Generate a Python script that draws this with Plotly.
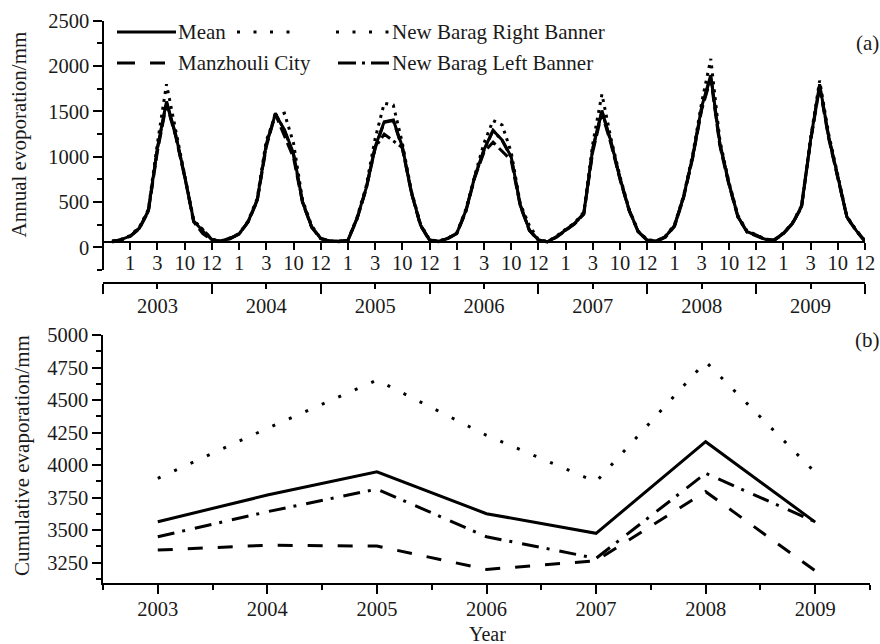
import plotly.graph_objects as go

# ---------------- data ----------------
YEARS = [2003, 2004, 2005, 2006, 2007, 2008, 2009]
MONTHS = list(range(1, 13))
MONTH_TICK_LABELS = ["1", "3", "10", "12"]

# (a) monthly evaporation (mm), 12 values per year, 2003..2009
mean_monthly = [
    65, 85, 125, 212, 405, 1100, 1610, 1250, 790, 290, 180, 85,
    68, 100, 147, 284, 523, 1140, 1470, 1300, 1037, 503, 228, 99,
    69, 66, 77, 320, 651, 1110, 1386, 1405, 1110, 607, 246, 80,
    66, 99, 155, 405, 788, 1080, 1290, 1184, 1000, 467, 191, 80,
    62, 118, 191, 265, 376, 1100, 1510, 1166, 760, 412, 173, 80,
    69, 118, 240, 559, 1000, 1552, 1900, 1148, 706, 338, 172, 136,
    88, 81, 155, 265, 449, 1185, 1800, 1221, 780, 338, 190, 70,
]
right_monthly = [
    70, 90, 130, 220, 420, 1150, 1800, 1280, 800, 300, 190, 90,
    70, 105, 150, 290, 540, 1180, 1450, 1480, 1150, 520, 240, 100,
    70, 70, 80, 330, 670, 1200, 1590, 1570, 1150, 620, 260, 85,
    70, 100, 160, 420, 800, 1150, 1400, 1350, 1050, 480, 240, 85,
    65, 125, 200, 270, 390, 1150, 1690, 1200, 780, 420, 180, 85,
    70, 125, 250, 570, 1020, 1600, 2080, 1180, 720, 350, 180, 140,
    90, 85, 160, 270, 460, 1200, 1840, 1250, 800, 345, 195, 75,
]
manzhouli_monthly = [
    60, 80, 120, 205, 395, 1060, 1580, 1230, 780, 280, 150, 80,
    65, 95, 145, 280, 510, 1110, 1470, 1220, 990, 490, 220, 95,
    68, 62, 75, 310, 640, 1090, 1380, 1400, 1090, 600, 240, 75,
    62, 97, 150, 395, 775, 1050, 1160, 1060, 960, 455, 185, 75,
    60, 112, 185, 260, 365, 1060, 1480, 1140, 745, 405, 170, 75,
    66, 112, 230, 545, 985, 1520, 1860, 1120, 690, 330, 168, 130,
    85, 78, 150, 260, 440, 1170, 1770, 1200, 770, 332, 185, 65,
]
left_monthly = [
    65, 85, 125, 210, 400, 1090, 1600, 1240, 785, 285, 200, 85,
    68, 100, 148, 282, 520, 1130, 1480, 1290, 1020, 500, 225, 98,
    69, 66, 76, 318, 645, 1100, 1250, 1180, 1100, 605, 245, 80,
    65, 98, 153, 400, 785, 1070, 1290, 1180, 990, 465, 190, 80,
    62, 116, 190, 263, 372, 1090, 1500, 1160, 755, 410, 172, 80,
    68, 116, 238, 555, 995, 1540, 1890, 1140, 700, 336, 170, 135,
    87, 80, 153, 262, 447, 1180, 1790, 1215, 775, 336, 188, 70,
]

# (b) cumulative (annual) evaporation (mm)
mean_annual = [3565, 3770, 3949, 3627, 3476, 4180, 3562]
right_annual = [3898, 4283, 4654, 4229, 3872, 4795, 3944]
manzhouli_annual = [3347, 3385, 3378, 3199, 3265, 3796, 3188]
left_annual = [3450, 3642, 3816, 3450, 3284, 3937, 3565]

# ---------------- helpers ----------------
W, H = 880, 644
FONT = "Liberation Serif, Times New Roman, serif"
TXT = "#1a1a1a"
LC = "#000000"


def px(x):
    return x / W


def py(y):
    return 1 - y / H


n_y = len(YEARS)
x_month = [12 * i + m for i in range(n_y) for m in MONTHS]
month_tickvals = [12 * i + 3 * (k + 1) for i in range(n_y) for k in range(4)]
month_ticktext = MONTH_TICK_LABELS * n_y
year_centers = [12 * i + 6 for i in range(n_y)]
year_bounds = [12 * i for i in range(n_y + 1)]

fig = go.Figure()

top_styles = [
    ("New Barag Right Banner", right_monthly, "3px,5px"),
    ("Manzhouli City", manzhouli_monthly, "12px,5px"),
    ("New Barag Left Banner", left_monthly, "12px,4px,3px,4px"),
    ("Mean", mean_monthly, "solid"),
]
for name, vals, dash in top_styles:
    fig.add_trace(go.Scatter(x=x_month, y=vals, mode="lines", name=name,
                             line=dict(color=LC, width=3, dash=dash),
                             xaxis="x", yaxis="y", showlegend=False))

# dummy trace for the year axis of panel (a)
fig.add_trace(go.Scatter(x=[None], y=[None], xaxis="x3", yaxis="y",
                         showlegend=False, hoverinfo="skip"))

bottom_styles = [
    ("New Barag Right Banner", right_annual, "3px,15px"),
    ("Manzhouli City", manzhouli_annual, "15px,15px"),
    ("New Barag Left Banner", left_annual, "17px,8px,3px,10px"),
    ("Mean", mean_annual, "solid"),
]
for name, vals, dash in bottom_styles:
    fig.add_trace(go.Scatter(x=YEARS, y=vals, mode="lines", name=name,
                             line=dict(color=LC, width=3, dash=dash),
                             xaxis="x2", yaxis="y2", showlegend=False))

tickfont = dict(family=FONT, size=20.5, color=TXT)
axis_common = dict(showline=True, linecolor=LC, linewidth=1.5, ticks="outside",
                   tickcolor=LC, tickwidth=1.5, showgrid=False, zeroline=False,
                   tickfont=tickfont, automargin=False, fixedrange=True)

fig.update_layout(
    template="none",
    width=W, height=H,
    margin=dict(l=0, r=0, t=0, b=0),
    paper_bgcolor="white", plot_bgcolor="white",
    showlegend=False,
    xaxis=dict(domain=[px(103), px(865)], range=[0, 84], anchor="free",
               position=py(242), tickmode="array", tickvals=month_tickvals,
               ticktext=month_ticktext, ticklen=7, ticklabelstandoff=-4,
               **axis_common),
    xaxis3=dict(overlaying="x", range=[0, 84], anchor="free", position=py(283),
                tickmode="array", tickvals=year_centers,
                ticktext=[str(y) for y in YEARS], ticklen=5,
                minor=dict(tickmode="array", tickvals=year_bounds, ticklen=10,
                           ticks="outside", tickcolor=LC, tickwidth=1.5),
                **axis_common),
    yaxis=dict(domain=[py(270), py(20.8)], range=[-250, 2500], anchor="free",
               position=px(103), tickmode="array",
               tickvals=[0, 500, 1000, 1500, 2000, 2500], ticklen=9,
               minor=dict(dtick=250, tick0=0, ticklen=5, ticks="outside",
                          tickcolor=LC, tickwidth=1.5),
               **axis_common),
    xaxis2=dict(domain=[px(103), px(870)], range=[2002.5, 2009.5], anchor="y2",
                tickmode="array", tickvals=YEARS, ticklen=9,
                ticklabelstandoff=-3,
                minor=dict(dtick=1, tick0=2002.5, ticklen=5, ticks="outside",
                           tickcolor=LC, tickwidth=1.5),
                **axis_common),
    yaxis2=dict(domain=[py(583.3), py(335)], range=[3092, 5000], anchor="x2",
                tickmode="array",
                tickvals=[3250, 3500, 3750, 4000, 4250, 4500, 4750, 5000],
                ticklen=9,
                minor=dict(dtick=125, tick0=3000, ticklen=5, ticks="outside",
                           tickcolor=LC, tickwidth=1.5),
                **axis_common),
)

annots = [
    dict(text="Annual evoporation/mm", x=px(18.5), y=py(135), textangle=-90,
         font=dict(family=FONT, size=21, color=TXT)),
    dict(text="Cumulative evaporation/mm", x=px(22), y=py(456), textangle=-90,
         font=dict(family=FONT, size=21, color=TXT)),
    dict(text="Year", x=px(487), y=py(634),
         font=dict(family=FONT, size=20, color=TXT)),
    dict(text="(a)", x=px(867), y=py(43),
         font=dict(family=FONT, size=21, color=TXT)),
    dict(text="(b)", x=px(867), y=py(340),
         font=dict(family=FONT, size=21, color=TXT)),
]
legend_text = [
    ("Mean", 177, 32), ("New Barag Right Banner", 391, 32),
    ("Manzhouli City", 177, 63), ("New Barag Left Banner", 391, 63),
]
for t, lx, ly in legend_text:
    annots.append(dict(text=t, x=px(lx), y=py(ly), xanchor="left",
                       font=dict(family=FONT, size=21, color=TXT)))
for a in annots:
    a.update(xref="paper", yref="paper", showarrow=False)
    a.setdefault("xanchor", "center")
    a.setdefault("yanchor", "middle")
    a.setdefault("borderpad", 0)
fig.update_layout(annotations=annots)

legend_lines = [
    (117, 176, 32, "solid"),
    (237, 292, 32, "3px,13.5px"),
    (336, 390, 32, "3px,13.5px"),
    (117, 165, 63, "18px,15px"),
    (338, 392, 63, "18px,6px,3px,6px"),
]
shapes = []
for x0, x1, yy, dash in legend_lines:
    shapes.append(dict(type="line", xref="paper", yref="paper",
                       x0=px(x0), x1=px(x1), y0=py(yy), y1=py(yy),
                       line=dict(color=LC, width=3, dash=dash)))
fig.update_layout(shapes=shapes)

fig.write_html("out.html")
